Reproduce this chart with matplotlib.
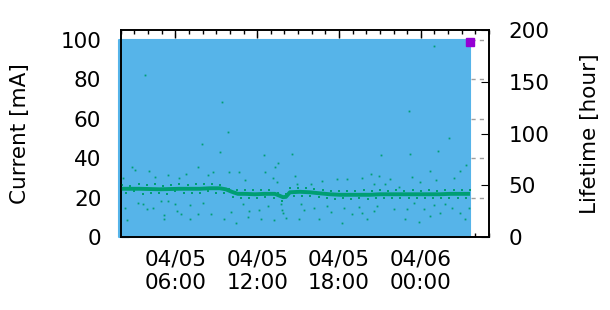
import numpy as np
import pandas as pd
import matplotlib
matplotlib.use("Agg")
import matplotlib.pyplot as plt
import matplotlib.dates as mdates

plt.rcParams['font.family'] = ['DejaVu Sans']

day0 = pd.Timestamp("2024-04-05")

# beam current [mA] (hours since 04/05 00:00)
cur_t = [1.85, 27.64]
cur_v = [100.0, 100.0]
last_t = 27.64
last_cur = 99.0

# lifetime [hour]: main band
band_t = [2.00, 3.39, 4.86, 6.33, 7.80, 8.53, 9.26, 9.70, 10.14, 10.58, 11.10,
          11.83, 12.56, 13.30, 13.66, 13.89, 14.11, 14.40, 15.13, 15.87, 16.60,
          17.33, 18.07, 18.80, 19.53, 20.27, 21.00, 21.74, 22.47, 23.20, 23.94,
          24.67, 25.40, 26.14, 26.87, 27.61]
band_v = [46.6, 46.6, 46.1, 46.6, 46.6, 47.1, 47.1, 46.1, 43.7, 41.7, 41.7,
          41.3, 41.7, 41.7, 39.8, 38.5, 38.8, 43.2, 43.7, 43.2, 42.2,
          41.3, 40.8, 40.8, 40.8, 40.8, 41.3, 41.3, 41.3, 41.3, 41.3,
          41.3, 41.3, 41.7, 41.7, 41.7]

# lifetime [hour]: points just around the band
near_t = [2.1, 2.4, 2.7, 3.0, 3.3, 3.6, 3.9, 4.2, 4.5, 4.8, 5.1, 5.4, 5.7, 6.0,
          6.3, 6.6, 6.9, 7.2, 7.5, 7.8, 8.1, 8.4, 8.7, 9.0, 9.3, 9.6,
          9.9, 10.2, 10.5, 10.8, 11.1, 11.4, 11.7, 12.0, 12.3, 12.6, 12.9, 13.2,
          13.5, 13.8, 14.1, 14.4, 14.7, 15.0, 15.3, 15.6, 15.9, 16.2, 16.5,
          16.8, 17.1, 17.4, 17.7, 18.0, 18.3, 18.6, 18.9, 19.2, 19.5, 19.8, 20.1,
          20.4, 20.7, 21.0, 21.3, 21.6, 21.9, 22.2, 22.5, 22.8, 23.1, 23.4, 23.7,
          24.0, 24.3, 24.6, 24.9, 25.2, 25.5, 25.8, 26.1, 26.4, 26.7, 27.0, 27.3,
          27.6]
near_v = [50, 43, 49, 44, 51, 42, 50, 43, 51, 43, 49, 42, 50, 44,
          51, 43, 50, 43, 51, 43, 51, 44, 51, 43, 50, 43,
          46, 39, 45, 38, 45, 38, 45, 38, 45, 39, 45, 38,
          43, 35, 42, 47, 40, 47, 40, 47, 40, 46, 39,
          45, 38, 44, 37, 44, 38, 44, 37, 44, 38, 45, 37,
          44, 38, 45, 38, 44, 38, 45, 38, 44, 38, 45, 38,
          44, 38, 45, 38, 44, 38, 45, 38, 45, 38, 45, 38,
          45]

# lifetime [hour]: scattered points
scat_t = [2.81, 3.05, 7.67, 4.05, 5.45, 6.79, 4.52, 6.26, 2.15, 2.46, 5.15, 5.18,
          7.08, 7.67, 2.32, 3.25, 4.35, 6.13, 6.38, 5.94, 7.04, 8.02, 3.61, 3.89,
          4.96, 5.45, 3.78, 9.43, 9.87, 7.96, 9.29, 12.51, 14.57, 24.99, 23.15,
          26.09, 25.28, 23.23, 21.10, 13.54, 13.32, 8.73, 9.94, 10.68, 8.41, 12.58,
          14.77, 11.12, 13.13, 13.42, 8.60, 10.44, 9.58, 11.30, 12.27, 13.25, 14.11,
          13.81, 11.41, 10.07, 10.93, 12.76, 13.74, 13.86, 12.15, 20.32, 20.93,
          18.60, 19.70, 17.87, 16.77, 15.92, 14.93, 20.56, 18.24, 16.53, 15.06,
          20.06, 18.96, 17.39, 19.70, 20.56, 15.43, 16.16, 18.36, 19.46, 20.80,
          15.18, 17.13, 27.31, 26.89, 24.69, 23.35, 21.76, 25.13, 26.41, 23.96,
          21.39, 22.37, 22.98, 22.01, 22.86, 23.84, 24.69, 25.43, 26.28, 26.89,
          27.26, 24.20, 25.79, 24.94, 23.47, 27.51]
scat_v = [68.0, 64.8, 68.0, 64.1, 59.9, 60.9, 57.6, 56.6, 56.6, 16.2, 21.1, 17.2,
          17.2, 22.0, 28.4, 33.3, 28.4, 25.2, 22.0, 31.7, 30.8, 33.3, 31.7, 26.9,
          35.0, 35.0, 157.0, 130.8, 101.7, 90.0, 82.2, 79.3, 80.3, 184.2, 122.0,
          95.8, 83.2, 80.3, 79.3, 71.6, 68.0, 62.8, 62.8, 62.8, 59.9, 62.8,
          59.2, 55.0, 57.0, 53.1, 22.0, 13.9, 17.2, 19.7, 17.2, 16.2, 18.7,
          25.9, 25.2, 24.3, 31.7, 30.1, 31.7, 23.6, 25.9, 60.9, 59.2,
          56.0, 57.0, 56.0, 53.7, 51.2, 51.2, 51.2, 13.9, 17.2, 17.2,
          17.2, 22.0, 24.3, 23.0, 25.2, 25.9, 28.4, 28.4, 29.4, 30.1,
          31.7, 30.1, 69.6, 64.1, 64.1, 58.3, 56.0, 55.0, 57.0, 52.7,
          51.2, 48.5, 26.9, 26.9, 17.2, 14.6, 20.4, 23.6, 27.9, 23.6,
          17.2, 26.9, 32.3, 31.1, 33.3, 27.9]


def to_time(hours):
    return day0 + pd.to_timedelta(np.asarray(hours), unit="h")


fig = plt.figure(figsize=(6.1, 3.1), dpi=100)
ax = fig.add_axes([0.198, 0.2355, 0.6036, 0.6675])
ax2 = ax.twinx()

ax.set_axisbelow(True)
ax.fill_between(to_time(cur_t), 0, cur_v, color="#56b4e9", edgecolor="#56b4e9",
                linewidth=1.5, clip_on=False, zorder=1)
ax.plot(to_time([last_t]), [last_cur], marker="s", markersize=5.2,
        color="#9400d3", linestyle="none", zorder=5, clip_on=False)

green = "#009e73"
ax2.plot(to_time(band_t), band_v, color=green, linewidth=2.8,
         solid_capstyle="butt")
ax2.plot(to_time(near_t), near_v, marker="s", markersize=1.7, linestyle="none",
         markeredgewidth=0, color=green)
ax2.plot(to_time(scat_t), scat_v, marker="s", markersize=1.3, linestyle="none",
         markeredgewidth=0, color=green)

ax.set_xlim(day0 + pd.Timedelta(hours=2), day0 + pd.Timedelta(hours=29))
ax.set_ylim(0, 105)
ax2.set_ylim(0, 200)

ax.xaxis.set_major_locator(mdates.HourLocator(byhour=[0, 6, 12, 18]))
ax.xaxis.set_minor_locator(mdates.HourLocator())
ax.xaxis.set_major_formatter(mdates.DateFormatter("%m/%d\n%H:%M"))
ax.set_yticks([0, 20, 40, 60, 80, 100])
ax2.set_yticks([0, 50, 100, 150, 200])

fs = 15.5
ax.grid(True, color="#a0a0a0", linestyle=(0, (3, 3)), linewidth=1.0)
ax.tick_params(axis="x", which="both", direction="in", top=True, labelsize=fs,
               pad=9, width=1)
ax.tick_params(axis="x", which="major", length=6)
ax.tick_params(axis="x", which="minor", length=3)
ax.tick_params(axis="y", direction="in", right=False, labelsize=fs, pad=14,
               length=6)
ax2.tick_params(axis="y", direction="in", labelsize=fs, pad=14, length=6)

for s in ax.spines.values():
    s.set_linewidth(1.2)
for s in ax2.spines.values():
    s.set_linewidth(1.2)

fig.text(0.033, 0.57, "Current [mA]", rotation=90, ha="center", va="center",
         fontsize=fs)
fig.text(0.967, 0.57, "Lifetime [hour]", rotation=90, ha="center", va="center",
         fontsize=fs)

fig.savefig("out.png", dpi=100)
